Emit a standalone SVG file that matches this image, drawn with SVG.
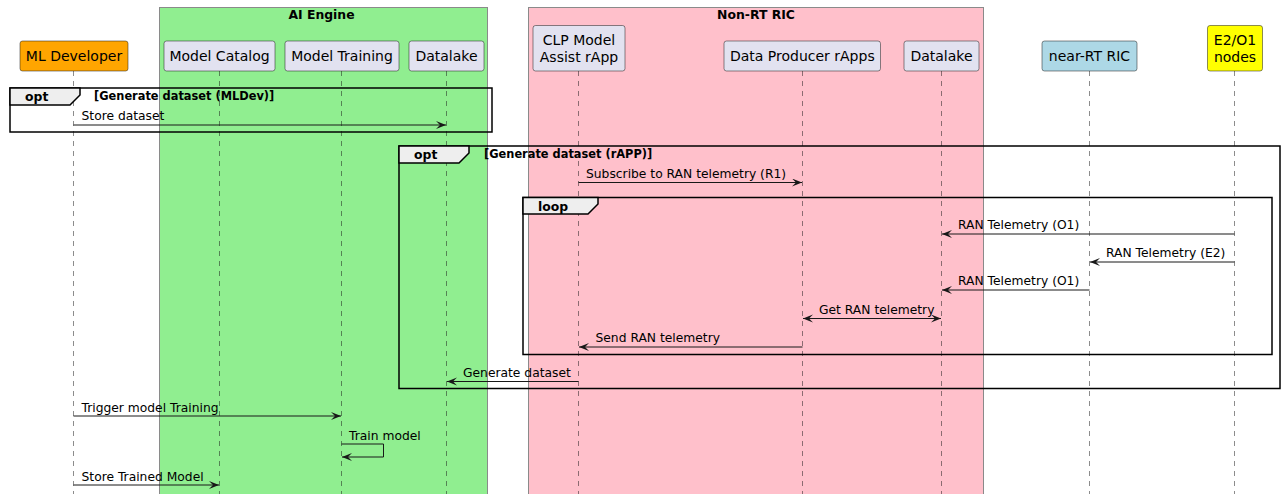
<svg xmlns="http://www.w3.org/2000/svg" width="1281" height="494" viewBox="0 0 1281 494">
<defs>
<style>
.t{font-family:"DejaVu Sans",sans-serif;fill:#000}
.pt{font-size:14px}
.mt{font-size:12.3px}
.bt{font-size:12.4px;font-weight:bold}
.gt{font-size:11.4px;font-weight:bold}
.part{stroke:#181818;stroke-width:0.5}
.life{stroke:#181818;stroke-width:0.5;stroke-dasharray:5,5}
.msg{stroke:#181818;stroke-width:1;fill:none}
.frame{fill:none;stroke:#000;stroke-width:1.5}
.tab{fill:#EEEEEE;stroke:#000;stroke-width:1.5}
.grp{stroke:#8a8a8a;stroke-width:1}
</style>
<marker id="ah" markerWidth="12" markerHeight="10" refX="10" refY="4" orient="auto-start-reverse" markerUnits="userSpaceOnUse">
<polygon points="0,0 10,4 0,8 4,4" fill="#181818"/>
</marker>
</defs>
<rect width="1281" height="494" fill="#fff"/>
<g id="box-ai-engine">
<rect class="grp" x="159.5" y="7.5" width="328" height="490" fill="#90EE90"/>
<text class="t bt" x="321.5" y="19" text-anchor="middle">AI Engine</text>
</g>
<g id="box-non-rt-ric">
<rect class="grp" x="528.5" y="7.5" width="455" height="490" fill="#FFC0CB"/>
<text class="t bt" x="756" y="19" text-anchor="middle">Non-RT RIC</text>
</g>
<g id="lifelines">
<line class="life" x1="73.5" y1="71" x2="73.5" y2="494"/>
<line class="life" x1="219.5" y1="71" x2="219.5" y2="494"/>
<line class="life" x1="341.5" y1="71" x2="341.5" y2="494"/>
<line class="life" x1="446.5" y1="71" x2="446.5" y2="494"/>
<line class="life" x1="578.5" y1="71" x2="578.5" y2="494"/>
<line class="life" x1="802.5" y1="71" x2="802.5" y2="494"/>
<line class="life" x1="941.5" y1="71" x2="941.5" y2="494"/>
<line class="life" x1="1089.5" y1="71" x2="1089.5" y2="494"/>
<line class="life" x1="1234.5" y1="71" x2="1234.5" y2="494"/>
</g>
<g id="ml-developer">
<rect class="part" x="20" y="41" width="108" height="30" rx="2.5" fill="#FFA500"/>
<text class="t pt" x="74" y="61" text-anchor="middle">ML Developer</text>
</g>
<g id="model-catalog">
<rect class="part" x="164" y="41" width="111" height="30" rx="2.5" fill="#E2E2F0"/>
<text class="t pt" x="219.5" y="61" text-anchor="middle">Model Catalog</text>
</g>
<g id="model-training">
<rect class="part" x="285" y="41" width="114" height="30" rx="2.5" fill="#E2E2F0"/>
<text class="t pt" x="342" y="61" text-anchor="middle">Model Training</text>
</g>
<g id="datalake-ai">
<rect class="part" x="409" y="41" width="75" height="30" rx="2.5" fill="#E2E2F0"/>
<text class="t pt" x="446.5" y="61" text-anchor="middle">Datalake</text>
</g>
<g id="clp-rapp">
<rect class="part" x="533" y="25.5" width="92" height="45.5" rx="2.5" fill="#E2E2F0"/>
<text class="t pt" x="579" y="45" text-anchor="middle">CLP Model</text>
<text class="t pt" x="579" y="62" text-anchor="middle">Assist rApp</text>
</g>
<g id="data-producer">
<rect class="part" x="724" y="41" width="156.5" height="30" rx="2.5" fill="#E2E2F0"/>
<text class="t pt" x="802.3" y="61" text-anchor="middle">Data Producer rApps</text>
</g>
<g id="datalake-nonrt">
<rect class="part" x="904" y="41" width="75" height="30" rx="2.5" fill="#E2E2F0"/>
<text class="t pt" x="941.5" y="61" text-anchor="middle">Datalake</text>
</g>
<g id="near-rt-ric">
<rect class="part" x="1042" y="41" width="95" height="30" rx="2.5" fill="#ADD8E6"/>
<text class="t pt" x="1089.5" y="61" text-anchor="middle">near-RT RIC</text>
</g>
<g id="e2-o1-nodes">
<rect class="part" x="1207.5" y="25.5" width="55" height="45.5" rx="2.5" fill="#FFFF00"/>
<text class="t pt" x="1235" y="45" text-anchor="middle">E2/O1</text>
<text class="t pt" x="1235" y="62" text-anchor="middle">nodes</text>
</g>
<g id="frame-opt-mldev">
<rect class="frame" x="10" y="88" width="482" height="44"/>
<polygon class="tab" points="10,88 80,88 80,95 70,105 10,105"/>
<text class="t bt" x="25" y="101">opt</text>
<text class="t gt" x="94" y="100">[Generate dataset (MLDev)]</text>
</g>
<g id="frame-opt-rapp">
<rect class="frame" x="399" y="146" width="881" height="242.5"/>
<polygon class="tab" points="399,146 469,146 469,153 459,163 399,163"/>
<text class="t bt" x="414" y="159">opt</text>
<text class="t gt" x="484" y="158">[Generate dataset (rAPP)]</text>
</g>
<g id="frame-loop">
<rect class="frame" x="523" y="197.5" width="749" height="157"/>
<polygon class="tab" points="523,197.5 598,197.5 598,204 588,214 523,214"/>
<text class="t bt" x="538" y="210.5">loop</text>
</g>
<g id="connectors">
<line class="msg" x1="73.5" y1="125" x2="446" y2="125" marker-end="url(#ah)"/>
<line class="msg" x1="578.5" y1="182.5" x2="802" y2="182.5" marker-end="url(#ah)"/>
<line class="msg" x1="1234.5" y1="234" x2="942" y2="234" marker-end="url(#ah)"/>
<line class="msg" x1="1234.5" y1="262" x2="1090" y2="262" marker-end="url(#ah)"/>
<line class="msg" x1="1089.5" y1="290" x2="942" y2="290" marker-end="url(#ah)"/>
<line class="msg" x1="803" y1="318.5" x2="941" y2="318.5" marker-start="url(#ah)" marker-end="url(#ah)"/>
<line class="msg" x1="802.5" y1="347" x2="579" y2="347" marker-end="url(#ah)"/>
<line class="msg" x1="578.5" y1="381.5" x2="447" y2="381.5" marker-end="url(#ah)"/>
<line class="msg" x1="73.5" y1="416" x2="341" y2="416" marker-end="url(#ah)"/>
<polyline class="msg" points="341.5,444 383.5,444 383.5,457 342,457" marker-end="url(#ah)"/>
<line class="msg" x1="73.5" y1="485" x2="219" y2="485" marker-end="url(#ah)"/>
</g>
<g id="labels">
<text class="t mt" x="81.5" y="120">Store dataset</text>
<text class="t mt" x="586" y="178">Subscribe to RAN telemetry (R1)</text>
<text class="t mt" x="958" y="229">RAN Telemetry (O1)</text>
<text class="t mt" x="1106" y="257">RAN Telemetry (E2)</text>
<text class="t mt" x="958" y="285">RAN Telemetry (O1)</text>
<text class="t mt" x="819" y="314">Get RAN telemetry</text>
<text class="t mt" x="595.5" y="342">Send RAN telemetry</text>
<text class="t mt" x="463" y="376.5">Generate dataset</text>
<text class="t mt" x="81.5" y="411.5">Trigger model Training</text>
<text class="t mt" x="349" y="439.5">Train model</text>
<text class="t mt" x="81.5" y="480.5">Store Trained Model</text>
</g>
</svg>
